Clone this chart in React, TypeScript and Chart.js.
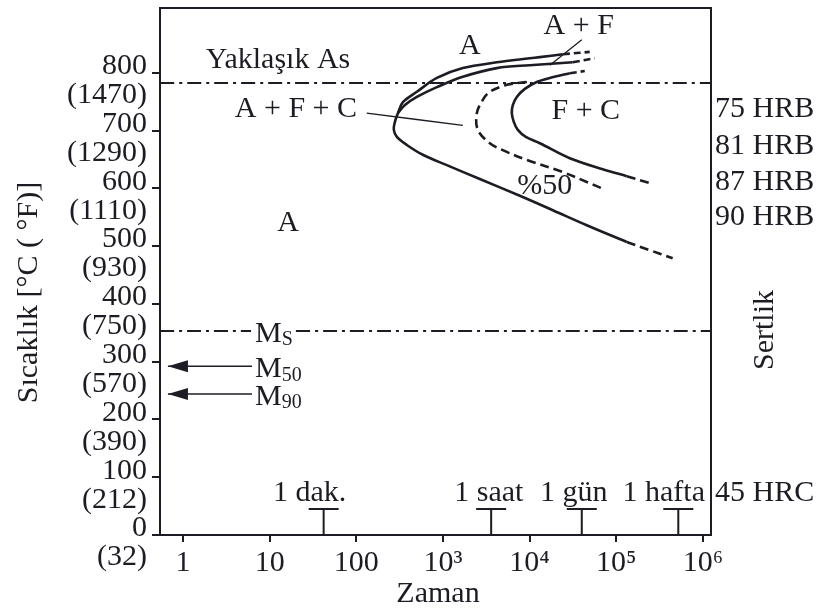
import { useEffect, useRef } from "react";
import { Chart, registerables } from "chart.js";

Chart.register(...registerables);

const FONT = "'Liberation Serif', 'Times New Roman', serif";
const INK = "#1c1c24";
const FS = 30;

// ---- axes ----
const X_MIN = 0.543;
const X_MAX = 1.24e6;
const Y_MAX = 912;
const xTickValues = [1, 10, 100, 1000, 10000, 100000, 1000000];
const xTickLabels = ["1", "10", "100", "10³", "10⁴", "10⁵", "10⁶"];
const yTickValues = [0, 100, 200, 300, 400, 500, 600, 700, 800];
const yTickFahrenheit = ["(32)", "(212)", "(390)", "(570)", "(750)", "(930)", "(1110)", "(1290)", "(1470)"];

// ---- transformation curves (time s, temperature °C) ----
const ferriteStartTime = [24150, 13120, 10050, 4190, 1698, 851, 500, 345, 302, 279, 271, 294, 383, 586, 1109, 2665, 7710, 18530, 45700, 132000];
const ferriteStartTemp = [832, 827, 825, 818, 808, 791, 767, 749, 730, 715, 701, 689, 675, 658, 640, 616, 587, 562, 536, 507];
const ferriteStartTopDashTime = [24150, 49400];
const ferriteStartTopDashTemp = [832, 836];
const ferriteStartLowDashTime = [132000, 243000, 448000];
const ferriteStartLowDashTemp = [507, 493, 479];

const pearliteStartTime = [31500, 10050, 4190, 1698, 851, 500, 364, 302];
const pearliteStartTemp = [818, 813, 808, 793, 775, 758, 744, 730];
const pearliteStartDashTime = [31500, 56500];
const pearliteStartDashTemp = [818, 825];

const halfTime = [9290, 5460, 3475, 2885, 2460, 2527, 3475, 4910, 9290, 24150, 45700, 68000];
const halfTemp = [784, 779, 767, 753, 730, 701, 678, 666, 649, 628, 611, 600];

const finishTime = [29100, 17100, 12100, 8810, 7120, 6400, 6230, 6570, 7310, 9040, 13120, 29100, 69800, 132000];
const finishTemp = [799, 791, 784, 772, 758, 744, 730, 715, 701, 689, 678, 652, 633, 621];
const finishTopDashTime = [29100, 43300];
const finishTopDashTemp = [799, 803];
const finishLowDashTime = [132000, 243000];
const finishLowDashTemp = [621, 609];

// ---- reference temperatures ----
const AS_TEMP = 782;
const MS_TEMP = 353;
const MS_GAP_START = 6.1;
const MS_GAP_END = 20.1;
const M50_TEMP = 292;
const M90_TEMP = 244;
const ARROW_TAIL_TIME = 6.25;
const ARROW_TIP_TIME = 0.67;

// ---- leader lines ----
const afcLeaderTime = [132, 1698];
const afcLeaderTemp = [730, 709];
const afLeaderTime = [17100, 40000];
const afLeaderTemp = [813, 857];

// ---- labels ----
const regionLabelText = ["A", "A + F", "Yaklaşık As", "A + F + C", "F + C", "%50", "A"];
const regionLabelTime = [2043, 36900, 12.5, 20.1, 44500, 14960, 16.3];
const regionLabelTemp = [846, 881, 822, 737, 734, 604, 540];

const mSubscripts = ["S", "50", "90"];
const mLabelTemps = [MS_TEMP, M50_TEMP, M90_TEMP];
const M_LABEL_TIME = 6.8;

const hardnessText = ["75 HRB", "81 HRB", "87 HRB", "90 HRB", "45 HRC"];
const hardnessTemp = [737, 673, 611, 550, 73];

const markerTimes = [42, 3600, 40000, 520000];
const MARKER_TEMP = 45;
const timeLabelText = ["1 dak.", "1 saat", "1 gün", "1 hafta"];
const timeLabelTime = [29, 3380, 32300, 353000];
const TIME_LABEL_TEMP = 73;

const series = (t: number[], T: number[]) => t.map((v, i) => ({ x: v, y: T[i] }));

const solid = (data: any, width = 2.6) => ({
  data,
  borderColor: INK,
  borderWidth: width,
  pointRadius: 0,
  tension: 0.35,
  fill: false,
});
const dashed = (data: any, dash: number[] = [9, 5], width = 2.6) => ({
  ...solid(data, width),
  borderDash: dash,
});
const DASH_DOT = [14, 5, 3, 5];

const overlay = {
  id: "overlay",
  afterDraw(chart: any) {
    const { ctx, chartArea: a, scales } = chart;
    const xs = scales.x;
    const ys = scales.y;
    const px = (t: number) => xs.getPixelForValue(t);
    const py = (T: number) => ys.getPixelForValue(T);
    ctx.save();
    ctx.fillStyle = INK;
    ctx.strokeStyle = INK;

    // frame
    ctx.lineWidth = 2;
    ctx.strokeRect(a.left, a.top, a.right - a.left, a.bottom - a.top);

    // time markers (T shapes)
    ctx.lineWidth = 2;
    markerTimes.forEach((t) => {
      const x = px(t);
      const yTop = py(MARKER_TEMP);
      ctx.beginPath();
      ctx.moveTo(x, a.bottom);
      ctx.lineTo(x, yTop);
      ctx.moveTo(x - 15, yTop);
      ctx.lineTo(x + 15, yTop);
      ctx.stroke();
    });

    // arrowheads
    [M50_TEMP, M90_TEMP].forEach((T) => {
      const x = px(ARROW_TIP_TIME);
      const y = py(T);
      ctx.beginPath();
      ctx.moveTo(x, y);
      ctx.lineTo(x + 20, y - 6);
      ctx.lineTo(x + 20, y + 6);
      ctx.closePath();
      ctx.fill();
    });

    const text = (s: string, x: number, y: number, align = "center", size = FS) => {
      ctx.font = `${size}px ${FONT}`;
      ctx.textAlign = align;
      ctx.textBaseline = "middle";
      ctx.fillText(s, x, y);
    };

    regionLabelText.forEach((s, i) => text(s, px(regionLabelTime[i]), py(regionLabelTemp[i])));

    mSubscripts.forEach((sub, i) => {
      const x = px(M_LABEL_TIME);
      const y = py(mLabelTemps[i]) + 3;
      ctx.font = `${FS}px ${FONT}`;
      const w = ctx.measureText("M").width;
      text("M", x, y, "left");
      text(sub, x + w, y + 6, "left", 20);
    });

    hardnessText.forEach((s, i) => text(s, a.right + 4, py(hardnessTemp[i]), "left"));
    timeLabelText.forEach((s, i) => text(s, px(timeLabelTime[i]), py(TIME_LABEL_TEMP)));

    // axis titles
    text("Zaman", 438, 594);
    ctx.save();
    ctx.translate(29, (a.top + a.bottom) / 2 + 21);
    ctx.rotate(-Math.PI / 2);
    text("Sıcaklık [°C ( °F)]", 0, 0);
    ctx.restore();
    ctx.save();
    ctx.translate(765, 330);
    ctx.rotate(-Math.PI / 2);
    text("Sertlik", 0, 0);
    ctx.restore();

    ctx.restore();
  },
};

export default function App() {
  const ref = useRef<HTMLCanvasElement>(null);
  useEffect(() => {
    const datasets: any[] = [
      solid(series(ferriteStartTime, ferriteStartTemp)),
      dashed(series(ferriteStartTopDashTime, ferriteStartTopDashTemp), [7, 4]),
      dashed(series(ferriteStartLowDashTime, ferriteStartLowDashTemp)),
      solid(series(pearliteStartTime, pearliteStartTemp)),
      dashed(series(pearliteStartDashTime, pearliteStartDashTemp), [7, 4]),
      dashed(series(halfTime, halfTemp)),
      solid(series(finishTime, finishTemp)),
      dashed(series(finishTopDashTime, finishTopDashTemp), [7, 4]),
      dashed(series(finishLowDashTime, finishLowDashTemp)),
      dashed(series([X_MIN, X_MAX], [AS_TEMP, AS_TEMP]), DASH_DOT, 2),
      dashed(series([X_MIN, MS_GAP_START], [MS_TEMP, MS_TEMP]), DASH_DOT, 2),
      dashed(series([MS_GAP_END, X_MAX], [MS_TEMP, MS_TEMP]), DASH_DOT, 2),
      solid(series([ARROW_TAIL_TIME, ARROW_TIP_TIME], [M50_TEMP, M50_TEMP]), 1.5),
      solid(series([ARROW_TAIL_TIME, ARROW_TIP_TIME], [M90_TEMP, M90_TEMP]), 1.5),
      solid(series(afcLeaderTime, afcLeaderTemp), 1.3),
      solid(series(afLeaderTime, afLeaderTemp), 1.3),
    ];
    const chart = new Chart(ref.current as HTMLCanvasElement, {
      type: "line",
      data: { datasets },
      plugins: [overlay],
      options: {
        animation: false,
        responsive: false,
        events: [],
        layout: { padding: { top: 8, right: 108, left: 0, bottom: 0 } },
        plugins: { legend: { display: false }, tooltip: { enabled: false } },
        scales: {
          x: {
            type: "logarithmic",
            min: X_MIN,
            max: X_MAX,
            afterBuildTicks: (s: any) => {
              s.ticks = xTickValues.map((v) => ({ value: v }));
            },
            afterFit: (s: any) => {
              s.height = 75;
              s.paddingLeft = 0;
              s.paddingRight = 0;
            },
            border: { display: false },
            grid: { drawOnChartArea: false, drawTicks: true, tickLength: 7, color: INK, lineWidth: 2 },
            ticks: {
              autoSkip: false,
              maxRotation: 0,
              padding: 3,
              color: INK,
              font: { family: FONT, size: FS },
              callback: (_v: any, i: number) => xTickLabels[i],
            },
          },
          y: {
            type: "linear",
            min: 0,
            max: Y_MAX,
            afterBuildTicks: (s: any) => {
              s.ticks = yTickValues.map((v) => ({ value: v }));
            },
            afterFit: (s: any) => {
              s.width = 160;
              s.paddingTop = 0;
              s.paddingBottom = 0;
            },
            border: { display: false },
            grid: { drawOnChartArea: false, drawTicks: true, tickLength: 8, color: INK, lineWidth: 2 },
            ticks: {
              autoSkip: false,
              padding: 5,
              labelOffset: 8,
              color: INK,
              font: { family: FONT, size: FS, lineHeight: 0.97 },
              callback: (_v: any, i: number) => [String(yTickValues[i]), yTickFahrenheit[i]],
            },
          },
        },
      } as any,
    });
    return () => chart.destroy();
  }, []);
  return (
    <div style={{ position: "fixed", left: 0, top: 0, width: 819, height: 610, background: "#fff" }}>
      <canvas ref={ref} width={819} height={610} style={{ display: "block", width: 819, height: 610 }} />
    </div>
  );
}
